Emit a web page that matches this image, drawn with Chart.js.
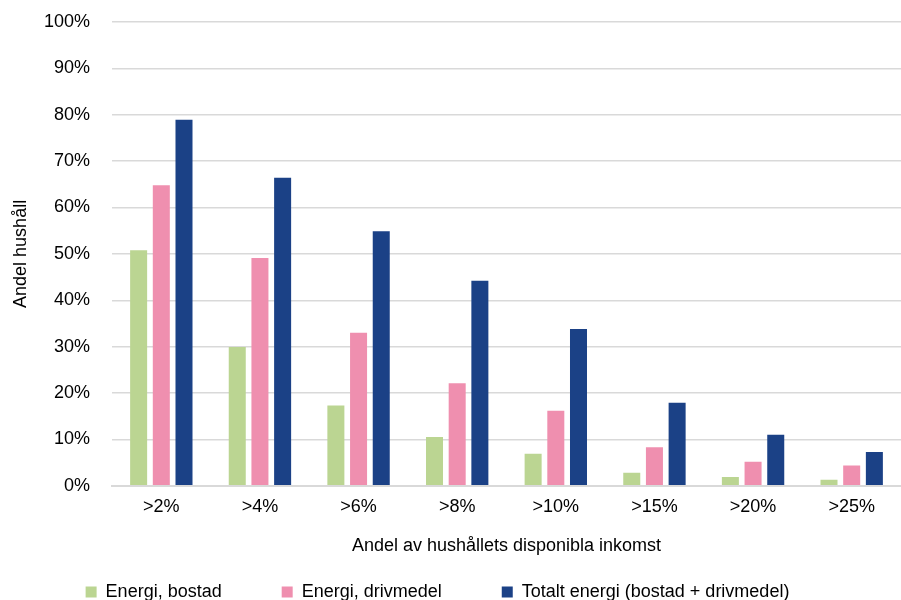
<!DOCTYPE html>
<html>
<head>
<meta charset="utf-8">
<script src="https://cdn.jsdelivr.net/npm/chart.js@4"></script>
<style>
  html, body { margin: 0; padding: 0; background: #fff; }
  #wrap { width: 901px; height: 600px; }
</style>
</head>
<body>
<div id="wrap"><canvas id="canvas"></canvas></div>
<script>
var kategorier = [">2%", ">4%", ">6%", ">8%", ">10%", ">15%", ">20%", ">25%"];
var energiBostad = [50.8, 29.9, 17.3, 10.5, 6.9, 2.8, 1.9, 1.3];
var energiDrivmedel = [64.8, 49.1, 33.0, 22.1, 16.2, 8.3, 5.2, 4.4];
var totaltEnergi = [78.9, 66.4, 54.9, 44.2, 33.8, 17.9, 11.0, 7.3];

Chart.defaults.font.family = "'Liberation Sans', Arial, sans-serif";
Chart.defaults.font.size = 18;
Chart.defaults.color = '#000';

// legend: wide horizontal spacing, but not so much height
var legendHack = {
	id: 'legendHack',
	beforeUpdate: function(chart) {
		var lg = chart.legend;
		if (!lg || lg._hacked) return;
		lg._hacked = true;
		var fit = lg.fit;
		lg.fit = function() {
			fit.call(this);
			this.height = 36;
		};
		var draw = lg.draw;
		lg.draw = function() {
			var t = this.top, l = this.left, r = this.right;
			this.top = t - 41;
			this.left = l - 16;
			this.right = r - 16;
			draw.call(this);
			this.top = t;
			this.left = l;
			this.right = r;
		};
	}
};

window.onload = function() {
	var ctx = "canvas";
	window.myBar = new Chart(ctx, {
		type: 'bar',
		data: {
			labels: kategorier,
			datasets: [
			{
				label: 'Energi, bostad',
				data: energiBostad,
				backgroundColor: '#BBD592'
			},
			{
				label: 'Energi, drivmedel',
				data: energiDrivmedel,
				backgroundColor: '#EF8FAF'
			},
			{
				label: 'Totalt energi (bostad + drivmedel)',
				data: totaltEnergi,
				backgroundColor: '#1B4186'
			}
			]
		},
		plugins: [legendHack],
		options: {
			responsive: true,
			maintainAspectRatio: false,
			animation: false,
			categoryPercentage: 0.69,
			barPercentage: 0.75,
			layout: { padding: { top: 22, right: 0, left: 6, bottom: 0 } },
			plugins: {
				legend: {
					position: 'bottom',
					align: 'center',
					labels: {
						boxWidth: 11,
						boxHeight: 11,
						padding: 60,
						color: '#000'
					}
				},
				tooltip: { enabled: false }
			},
			scales: {
				x: {
					grid: { display: false, drawTicks: false },
					border: { color: '#d9d9d9', width: 2 },
					ticks: { padding: 10 },
					title: {
						display: true,
						text: 'Andel av hushållets disponibla inkomst',
						padding: { top: 8, bottom: 7 }
					}
				},
				y: {
					min: 0,
					max: 100,
					grid: { color: '#d9d9d9', lineWidth: 1.5, drawTicks: false },
					border: { display: false },
					ticks: {
						stepSize: 10,
						padding: 22,
						callback: function(v) { return v + '%'; }
					},
					title: {
						display: true,
						text: 'Andel hushåll',
						padding: { top: 4, bottom: 0 }
					},
					afterFit: function(scale) {
						scale.width = 106;
						scale.paddingTop = 11;
						scale.paddingBottom = 11;
					}
				}
			}
		}
	});
};
</script>
</body>
</html>
